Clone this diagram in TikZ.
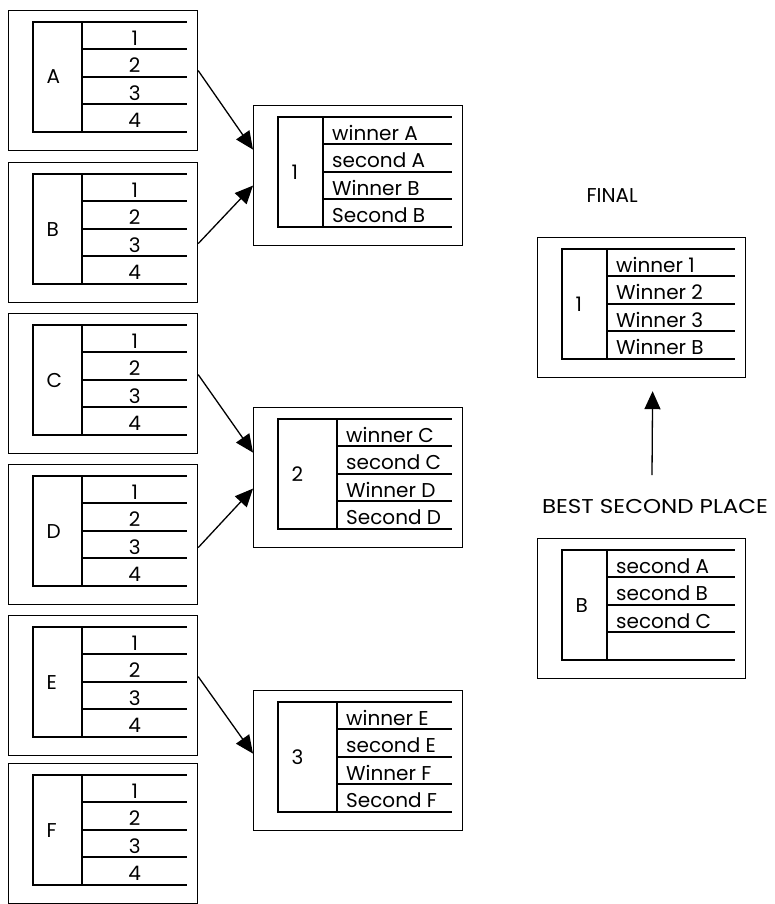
\documentclass[tikz,border=0pt]{standalone}
\usepackage{fontspec}
\setmainfont{Poppins}
\newfontfamily\widefont[FakeStretch=1.15]{Poppins}
\usetikzlibrary{arrows.meta,positioning}

\tikzset{
  frame/.style={draw, line width=1.2pt, minimum width=#1, minimum height=140pt,
    anchor=north west, inner sep=0pt},
  tbl/.style={line width=1.3pt},
  num/.style={anchor=base west, inner xsep=0pt, text width=\rw pt, align=center},
  txt/.style={anchor=base west, inner xsep=0pt, xshift=9pt},
  arr/.style={line width=1.3pt, -{Triangle[length=18pt,width=16pt]}}
}

% one boxed table: name, top left, width, divider, label, row style, rows
\newcommand{\tablebox}[7]{%
  \pgfmathsetmacro\rw{#3-10-#4}
  \begin{scope}[shift={(#2)}]
    \node[frame=#3pt] (#1) at (0,0) {};
    \draw[tbl] (25,12) rectangle (#4,122);
    \foreach \k in {12,39,67,94,122}
      \draw[tbl] (#4,\k) -- ({#3-10},\k);
    \node[anchor=base west] at (35,74) {#5};
    \foreach \t [count=\i] in {#7}
      \node[#6] at (#4,{27.5*\i+7.75}) {\t};
  \end{scope}}

\begin{document}
\begin{tikzpicture}[x=1pt, y=-1pt, font=\fontsize{20}{24}\selectfont]
  \useasboundingbox (0,0) rectangle (775,904);

  % groups
  \foreach \g/\y in {A/10, B/162, C/313, D/464, E/615, F/763}
    \tablebox{\g}{8,\y}{189}{74}{\g}{num}{1,2,3,4};

  % rounds
  \tablebox{r1}{253,105}{209}{70}{1}{txt}{winner A,second A,Winner B,Second B}
  \tablebox{r2}{253,407}{209}{84}{2}{txt}{winner C,second C,Winner D,Second D}
  \tablebox{r3}{253,690}{209}{84}{3}{txt}{winner E,second E,Winner F,Second F}

  % final
  \node[anchor=base west] (title) at (583,202) {FINAL};
  \tablebox{fin}{537,237}{208}{70}{1}{txt}{winner 1,Winner 2,Winner 3,Winner B}
  \node[anchor=base, font=\widefont\fontsize{20}{24}\selectfont] (best) at (655,513)
    {BEST SECOND PLACE};
  \tablebox{sec}{537,538}{208}{70}{B}{txt}{second A,second B,second C}

  \draw[arr] ([yshift=10pt]A.east) -- ([yshift=26pt]r1.west);
  \draw[arr] ([yshift=-11pt]B.east) -- ([yshift=-10pt]r1.west);
  \draw[arr] ([yshift=9pt]C.east) -- ([yshift=25pt]r2.west);
  \draw[arr] ([yshift=-13pt]D.east) -- ([yshift=-11pt]r2.west);
  \draw[arr] ([yshift=9pt]E.east) -- ([yshift=7pt]r3.west);
  \coordinate (up) at (652,475);
  \draw[arr] (up) -- ([xshift=11pt,yshift=-13pt]fin.south);
\end{tikzpicture}
\end{document}
